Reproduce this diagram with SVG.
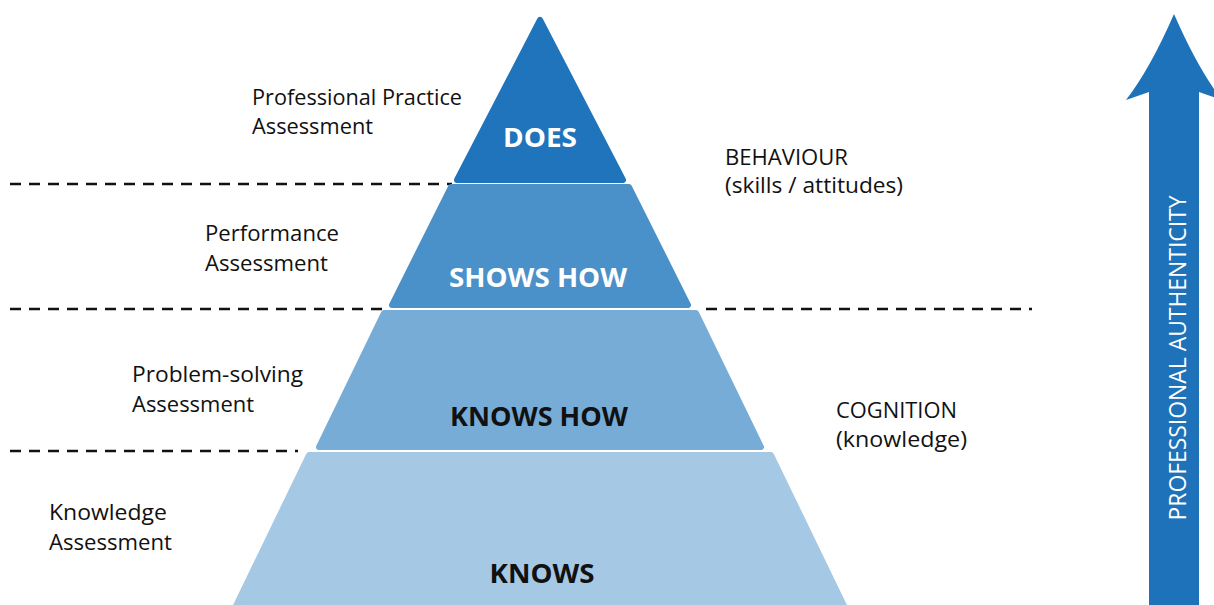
<svg xmlns="http://www.w3.org/2000/svg" width="1214" height="605" viewBox="0 0 1214 605">
<style>
.lbl{font-family:"Open Sans","Liberation Sans",sans-serif;font-size:22px;fill:#111;}
.tier{font-family:"Open Sans","Liberation Sans",sans-serif;font-weight:bold;font-size:27px;text-anchor:middle;}
.dash{stroke:#111;stroke-width:2.5;stroke-dasharray:11 8;fill:none;}
.shape{stroke-width:6;stroke-linejoin:round;}
</style>
<rect width="1214" height="605" fill="#ffffff"/>
<g id="connectors">
<line class="dash" x1="10" y1="184" x2="452" y2="184"/>
<line class="dash" x1="10" y1="309" x2="386" y2="309"/>
<line class="dash" x1="706" y1="309" x2="1032" y2="309"/>
<line class="dash" x1="10" y1="451" x2="298" y2="451"/>
</g>
<g id="knows">
<polygon class="shape" points="309,455 771,455 847,612 233,612" fill="#a5c8e5" stroke="#a5c8e5"/>
<text class="tier" x="542" y="583" fill="#111" textLength="105" lengthAdjust="spacingAndGlyphs">KNOWS</text>
</g>
<g id="knows-how">
<polygon class="shape" points="384,313 696,313 761,447 319,447" fill="#77acd7" stroke="#77acd7"/>
<text class="tier" x="539" y="426" fill="#111" textLength="178" lengthAdjust="spacingAndGlyphs">KNOWS HOW</text>
</g>
<g id="shows-how">
<polygon class="shape" points="451,187 629,187 688,305 392,305" fill="#4a90c9" stroke="#4a90c9"/>
<text class="tier" x="538" y="287" fill="#ffffff" textLength="178" lengthAdjust="spacingAndGlyphs">SHOWS HOW</text>
</g>
<g id="does">
<polygon class="shape" points="540,20 623,180 457,180" fill="#1f74bb" stroke="#1f74bb"/>
<text class="tier" x="540" y="147" fill="#ffffff" textLength="74" lengthAdjust="spacingAndGlyphs">DOES</text>
</g>
<g id="labels-left">
<text class="lbl" x="252" y="105" textLength="210" lengthAdjust="spacingAndGlyphs">Professional Practice</text>
<text class="lbl" x="252" y="134" textLength="121" lengthAdjust="spacingAndGlyphs">Assessment</text>
<text class="lbl" x="205" y="241" textLength="134" lengthAdjust="spacingAndGlyphs">Performance</text>
<text class="lbl" x="205" y="271" textLength="123" lengthAdjust="spacingAndGlyphs">Assessment</text>
<text class="lbl" x="132" y="382" textLength="171" lengthAdjust="spacingAndGlyphs">Problem-solving</text>
<text class="lbl" x="132" y="412" textLength="122" lengthAdjust="spacingAndGlyphs">Assessment</text>
<text class="lbl" x="49" y="520" textLength="118" lengthAdjust="spacingAndGlyphs">Knowledge</text>
<text class="lbl" x="49" y="550" textLength="123" lengthAdjust="spacingAndGlyphs">Assessment</text>
</g>
<g id="labels-right">
<text class="lbl" x="725" y="165" textLength="123" lengthAdjust="spacingAndGlyphs">BEHAVIOUR</text>
<text class="lbl" x="725" y="193" textLength="178" lengthAdjust="spacingAndGlyphs">(skills / attitudes)</text>
<text class="lbl" x="836" y="418" textLength="121" lengthAdjust="spacingAndGlyphs">COGNITION</text>
<text class="lbl" x="836" y="447" textLength="131" lengthAdjust="spacingAndGlyphs">(knowledge)</text>
</g>
<g id="authenticity-arrow">
<path d="M1174,14 Q1150,69 1126,100 L1149,92 L1149,606 L1199,606 L1199,92 L1222,100 Q1198,69 1174,14 Z" fill="#1e72b9"/>
<text transform="translate(1186,358) rotate(-90)" x="0" y="0" text-anchor="middle" font-family="'Open Sans','Liberation Sans',sans-serif" font-size="23" fill="#ffffff" textLength="325" lengthAdjust="spacingAndGlyphs">PROFESSIONAL AUTHENTICITY</text>
</g>
</svg>
